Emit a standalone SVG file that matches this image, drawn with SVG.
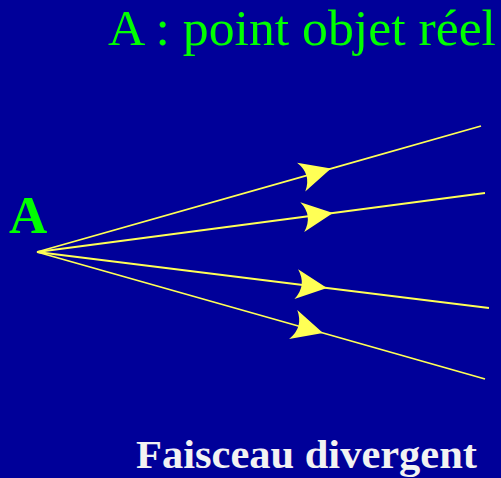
<svg xmlns="http://www.w3.org/2000/svg" width="501" height="478" viewBox="0 0 501 478">
<style>
.ray{fill:none;stroke:#ffff55;stroke-width:1.8;marker-mid:url(#arr)}
.title{font-family:"Liberation Serif",serif;font-size:51px;fill:#00ff00}
.lab{font-family:"Liberation Serif",serif;font-weight:bold;fill:#00ff00;font-size:53px}
.cap{font-family:"Liberation Serif",serif;font-weight:bold;fill:#f2f2f2;font-size:41px}
</style>
<defs>
<marker id="arr" markerUnits="userSpaceOnUse" orient="auto" markerWidth="40" markerHeight="40" refX="0" refY="0" viewBox="-35 -20 40 40" overflow="visible">
<path d="M0,0 L-31,-15 Q-20,0 -31,15 Z" fill="#ffff55"/>
</marker>
</defs>
<rect width="501" height="478" fill="#000099"/>
<g id="title"><text class="title" x="108" y="45" textLength="388" lengthAdjust="spacingAndGlyphs">A : point objet réel</text></g>
<g id="pointA"><text class="lab" x="9" y="233">A</text></g>
<g id="connectors">
<path class="ray" d="M37,252 L331,168.6 L481,126"/>
<path class="ray" d="M37,252 L333,213 L485,193"/>
<path class="ray" d="M37,252 L327,288 L489,308"/>
<path class="ray" d="M37,252 L323,333 L485,379"/>
</g>
<g id="caption"><text class="cap" x="136" y="468" textLength="341" lengthAdjust="spacingAndGlyphs">Faisceau divergent</text></g>
</svg>
